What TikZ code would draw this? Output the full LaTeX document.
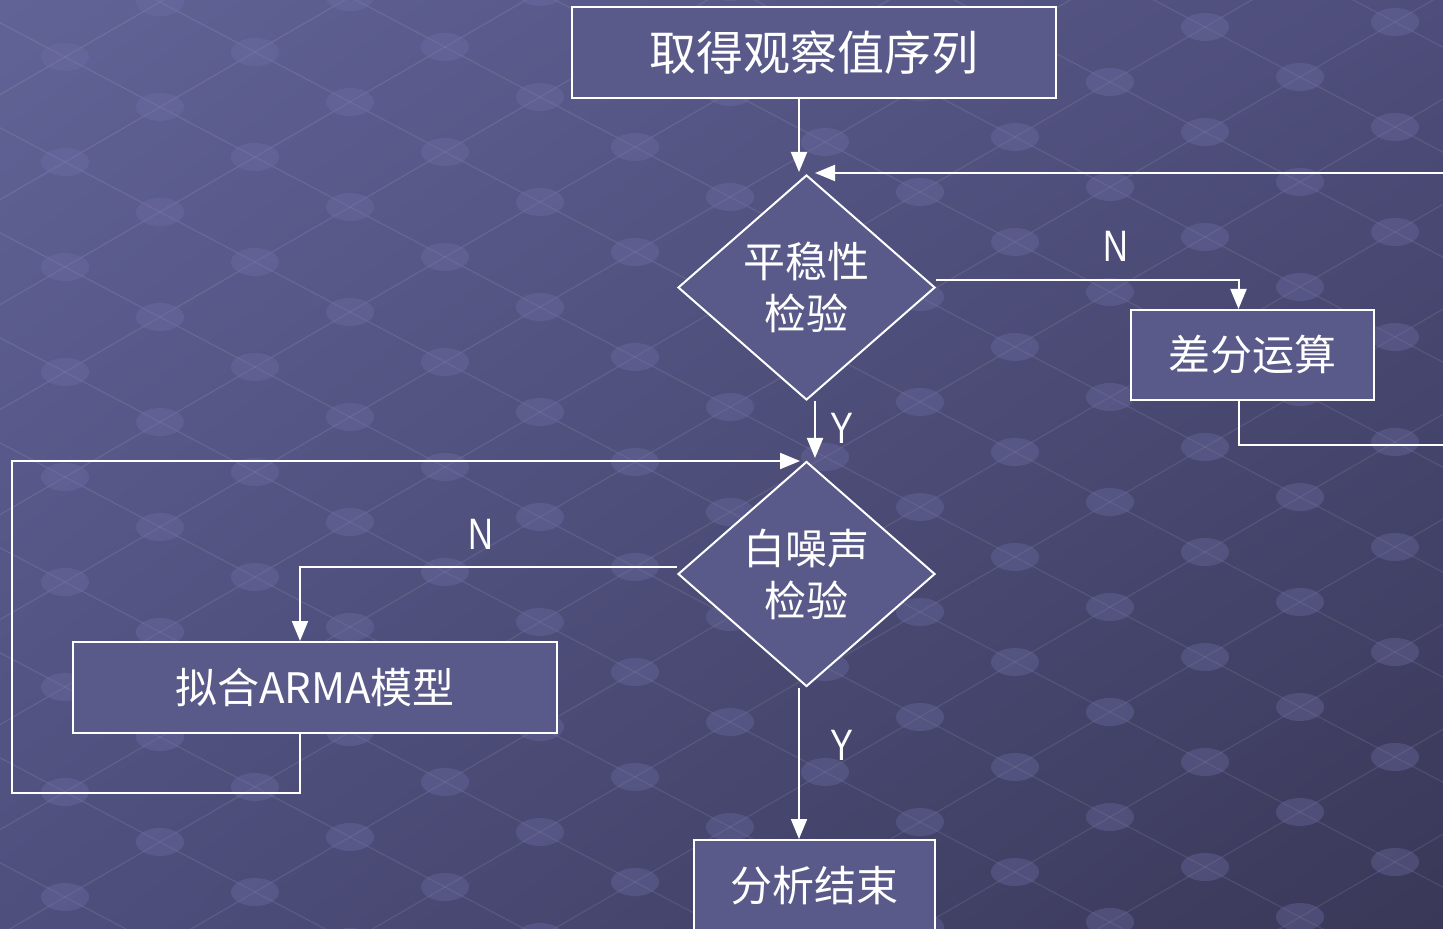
\documentclass[tikz,border=0pt]{standalone}
\usepackage{fontspec}
\newfontfamily\cjk{Noto Sans CJK SC}
\newfontfamily\lab{Liberation Sans}
\usetikzlibrary{shapes.geometric,arrows.meta,shadings}
\definecolor{bgTL}{HTML}{616396}
\definecolor{bgTR}{HTML}{4E4D7B}
\definecolor{bgBL}{HTML}{4F4F7E}
\definecolor{bgBR}{HTML}{393858}
\definecolor{boxfill}{HTML}{5A5A8A}
\definecolor{dotcol}{HTML}{7070A8}
\tikzset{
  flowbox/.style={draw=white, line width=1pt, fill=boxfill, text=white, inner sep=0pt, font=\cjk\fontsize{21pt}{26pt}\selectfont},
  decision/.style={diamond, draw=white, line width=1pt, fill=boxfill, text=white, inner sep=0pt, aspect=1.14,
     minimum width=128.5pt, minimum height=112.5pt, align=center, font=\cjk\fontsize{21pt}{26pt}\selectfont},
  arr/.style={draw=white, line width=1pt, -{Triangle[width=8pt,length=10pt]}},
  ln/.style={draw=white, line width=1pt},
  yn/.style={text=white, inner sep=0pt, font=\lab\fontsize{22pt}{24pt}\selectfont},
  gridline/.style={draw=white, draw opacity=0.09, line width=0.6pt},
  gdot/.style={fill=dotcol, fill opacity=0.35}
}
\begin{document}
\begin{tikzpicture}[x=0.5pt,y=-0.5pt]
\useasboundingbox (0,0) rectangle (1443,929);
\shade[upper left=bgTL, upper right=bgTR, lower left=bgBL, lower right=bgBR] (0,0) rectangle (1443,929);

% faint background texture
\begin{scope}
\clip (0,0) rectangle (1443,929);
\foreach \i in {-14,...,22}{
  \draw[gridline] ({65+95*(\i+14)},{477+50*\i-55*14}) -- ({65+95*(\i-22)},{477+50*\i+55*22});
  \draw[gridline] ({65+95*(-14-\i)},{477-50*14+55*\i}) -- ({65+95*(22-\i)},{477+50*22+55*\i});
}
\foreach \i in {-14,...,22}{
  \foreach \j in {-14,...,22}{
    \fill[gdot] ({65+95*(\i-\j)},{477+50*\i+55*\j}) ellipse [x radius=24, y radius=14];
  }
}
\end{scope}

% nodes
\node[flowbox, minimum width=242pt, minimum height=45.5pt, font=\cjk\fontsize{23.5pt}{28pt}\selectfont] (b1) at (814,52.5) {取得观察值序列};
\node[decision] (d1) at (806.5,287.5) {平稳性\\检验};
\node[flowbox, minimum width=121.5pt, minimum height=45pt] (b2) at (1252.5,355) {差分运算};
\node[decision] (d2) at (806.5,574) {白噪声\\检验};
\node[flowbox, minimum width=242pt, minimum height=45.5pt] (b3) at (315,687.5) {拟合ARMA模型};
\node[flowbox, minimum width=120.5pt, minimum height=45.5pt] (b4) at (814.5,885.5) {分析结束};

% free ends
\coordinate (t1) at (799,172);
\coordinate (t2) at (815,173);
\coordinate (r1) at (1443,445);
\coordinate (r2) at (1443,173);
\coordinate (t3) at (815,458);
\coordinate (t4) at (800,461);
\coordinate (c1) at (12,793);
\coordinate (c2) at (12,461);

% connectors
\draw[arr] (b1.south -| t1) -- (t1);
\draw[arr] ([yshift=3.5pt]d1.east) -| ([xshift=-7pt]b2.north);
\draw[ln] ([xshift=-7pt]b2.south) |- (r1);
\draw[arr] (r2) -- (t2);
\draw[arr] (d1.south -| t3) -- (t3);
\draw[arr] ([yshift=3.5pt]d2.west) -| ([xshift=-7.5pt]b3.north);
\draw[arr] ([xshift=-7.5pt]b3.south) |- (c1) -- (c2) -- (t4);
\draw[arr] ([xshift=-3.75pt]d2.south) -- ([xshift=-3.75pt]d2.south |- b4.north);

% labels
\node[yn] (n1) at (1116,246) {\scalebox{0.78}[1]{N}};
\node[yn] (y1) at (842,428) {\scalebox{0.78}[1]{Y}};
\node[yn] (n2) at (481,534) {\scalebox{0.78}[1]{N}};
\node[yn] (y2) at (842,745) {\scalebox{0.78}[1]{Y}};
\end{tikzpicture}
\end{document}
